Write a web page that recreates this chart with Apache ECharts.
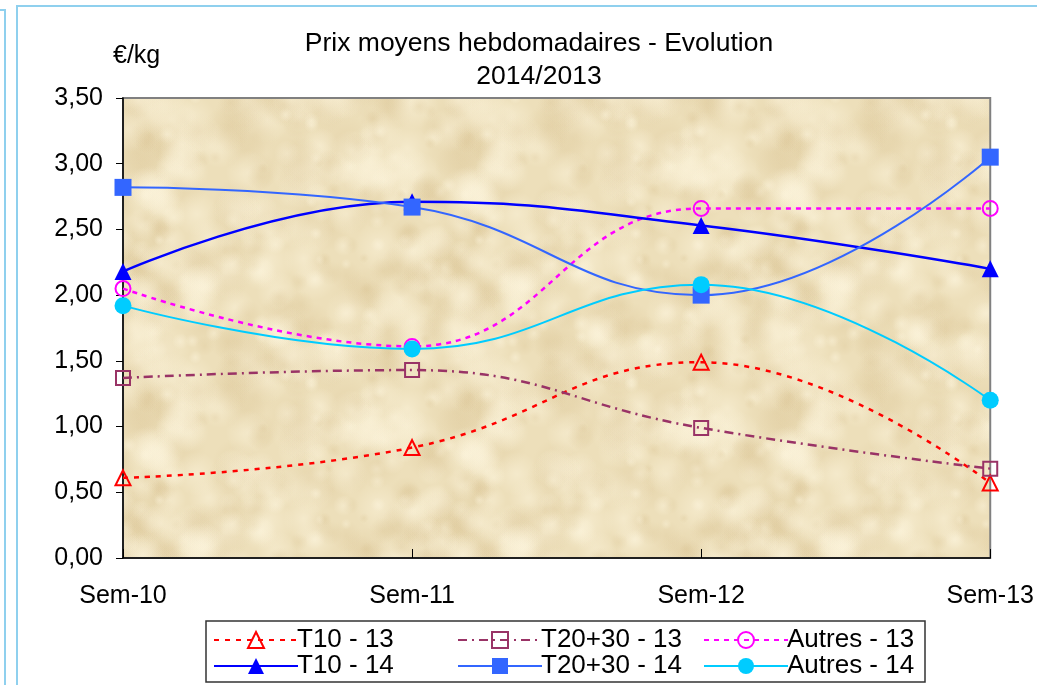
<!DOCTYPE html>
<html>
<head>
<meta charset="utf-8">
<script src="https://cdn.jsdelivr.net/npm/echarts@6/dist/echarts.min.js"></script>
<style>
html,body{margin:0;padding:0;background:#fff;}
#chart{width:1037px;height:685px;}
</style>
</head>
<body>
<div id="chart"></div>
<script>
// ---- data ----
var categories = ['Sem-10', 'Sem-11', 'Sem-12', 'Sem-13'];
var t10_13 = [0.61, 0.84, 1.49, 0.57];
var t2030_13 = [1.37, 1.43, 0.99, 0.68];
var autres_13 = [2.05, 1.61, 2.66, 2.66];
var t10_14 = [2.18, 2.71, 2.53, 2.20];
var t2030_14 = [2.82, 2.67, 2.00, 3.05];
var autres_14 = [1.92, 1.59, 2.08, 1.20];
var seriesNames = ['T10 - 13', 'T20+30 - 13', 'Autres - 13', 'T10 - 14', 'T20+30 - 14', 'Autres - 14'];
var yTicks = [0, 0.5, 1, 1.5, 2, 2.5, 3, 3.5];

var FONT = 'Liberation Sans, Arial, sans-serif';

// ---- parchment-like texture for the plot background (deterministic, seamless tile) ----
function makeTexture() {
  var c = document.createElement('canvas');
  var W = 320, H = 260;
  c.width = W; c.height = H;
  var g = c.getContext('2d');
  g.fillStyle = '#eddfba';
  g.fillRect(0, 0, W, H);
  function frac(v) { v = v % 1; return v < 0 ? v + 1 : v; }
  for (var i = 0; i < 320; i++) {
    var x = frac(Math.sin(i * 12.9898) * 43758.5453) * W;
    var y = frac(Math.sin(i * 78.233) * 24634.6345) * H;
    var r = 5 + frac(Math.sin(i * 3.17) * 9631.7) * 24;
    var light = i % 2 === 0;
    for (var ox = -1; ox <= 1; ox++) {
      for (var oy = -1; oy <= 1; oy++) {
        var cx = x + ox * W, cy = y + oy * H;
        if (cx + r < 0 || cx - r > W || cy + r < 0 || cy - r > H) continue;
        var grd = g.createRadialGradient(cx, cy, 0, cx, cy, r);
        grd.addColorStop(0, light ? 'rgba(252,244,220,0.5)' : 'rgba(214,190,140,0.25)');
        grd.addColorStop(1, light ? 'rgba(252,244,220,0)' : 'rgba(214,190,140,0)');
        g.fillStyle = grd;
        g.fillRect(cx - r, cy - r, 2 * r, 2 * r);
      }
    }
  }
  return c;
}

var chart = echarts.init(document.getElementById('chart'), null, {renderer: 'canvas'});

function lineSeries(name, data, color, width, type, symbol, size, hollow) {
  return {
    name: name,
    type: 'line',
    data: data,
    smooth: 0.45,
    symbol: symbol,
    symbolSize: size,
    showAllSymbol: true,
    z: hollow ? 3 : 4,
    lineStyle: {color: color, width: width, type: type},
    itemStyle: hollow
      ? {color: 'rgba(0,0,0,0)', borderColor: color, borderWidth: 2}
      : {color: color, borderWidth: 0},
    emphasis: {disabled: true}
  };
}

var texture = makeTexture();

var legendCols = [
  {data: [seriesNames[0], seriesNames[3]], left: 213},
  {data: [seriesNames[1], seriesNames[4]], left: 457},
  {data: [seriesNames[2], seriesNames[5]], left: 703}
];

var option = {
  animation: false,
  backgroundColor: '#ffffff',
  textStyle: {fontFamily: FONT},
  title: {
    text: 'Prix moyens hebdomadaires - Evolution\n2014/2013',
    left: 534, top: 22, textAlign: 'center',
    textStyle: {fontSize: 26.5, fontWeight: 'normal', color: '#000', lineHeight: 33, fontFamily: FONT}
  },
  grid: {
    left: 123, right: 46, top: 98, bottom: 127,
    show: true,
    backgroundColor: {image: texture, repeat: 'repeat'},
    borderColor: '#808080', borderWidth: 2
  },
  xAxis: {
    type: 'category',
    data: categories,
    boundaryGap: false,
    axisLine: {lineStyle: {color: '#000', width: 1.5}},
    axisTick: {show: true, inside: true, length: 9, lineStyle: {color: '#000'}},
    axisLabel: {fontSize: 25, color: '#000', margin: 26, fontFamily: FONT},
    splitLine: {show: false}
  },
  yAxis: {
    type: 'value',
    min: 0, max: 3.5, interval: 0.5,
    name: '€/kg',
    nameLocation: 'end',
    nameGap: 29,
    nameTextStyle: {fontSize: 25, color: '#000', align: 'left', padding: [0, 0, 0, -10], fontFamily: FONT},
    axisLine: {show: true, lineStyle: {color: '#000', width: 1.5}},
    axisTick: {show: true, length: 7, lineStyle: {color: '#000'}},
    axisLabel: {
      fontSize: 25, color: '#000', margin: 20,
      fontFamily: FONT,
      formatter: function (v) { return v.toFixed(2).replace('.', ','); }
    },
    splitLine: {show: false}
  },
  legend: legendCols.map(function (l) {
    return {
      data: l.data, left: l.left, top: 627, orient: 'vertical',
      itemWidth: 84, itemHeight: 20, itemGap: 0, padding: 0,
      textStyle: {fontSize: 26, lineHeight: 24, color: '#000', padding: [0, 0, 0, -6], fontFamily: FONT},
      selectedMode: false
    };
  }),
  graphic: [
    {type: 'rect', shape: {x: 206, y: 621, width: 719, height: 61}, style: {fill: 'none', stroke: '#333', lineWidth: 1.5}, z: -1},
    {type: 'polyline', shape: {points: [[0, 10], [5, 10], [5, 685]]}, style: {fill: 'none', stroke: '#8fd0ee', lineWidth: 2}},
    {type: 'polyline', shape: {points: [[17, 685], [17, 6], [1037, 6]]}, style: {fill: 'none', stroke: '#8fd0ee', lineWidth: 2}}
  ],
  series: [
    lineSeries(seriesNames[0], t10_13, '#ff0000', 2.5, [5, 6], 'triangle', 15, true),
    lineSeries(seriesNames[1], t2030_13, '#993366', 2.5, [9, 5, 2, 5], 'rect', 14, true),
    lineSeries(seriesNames[2], autres_13, '#ff00ff', 2.5, [5, 5], 'circle', 15, true),
    lineSeries(seriesNames[3], t10_14, '#0000ff', 2.5, 'solid', 'triangle', 17, false),
    lineSeries(seriesNames[4], t2030_14, '#3366ff', 2, 'solid', 'rect', 17, false),
    lineSeries(seriesNames[5], autres_14, '#00ccff', 2, 'solid', 'circle', 17, false)
  ]
};
chart.setOption(option);
</script>
</body>
</html>
